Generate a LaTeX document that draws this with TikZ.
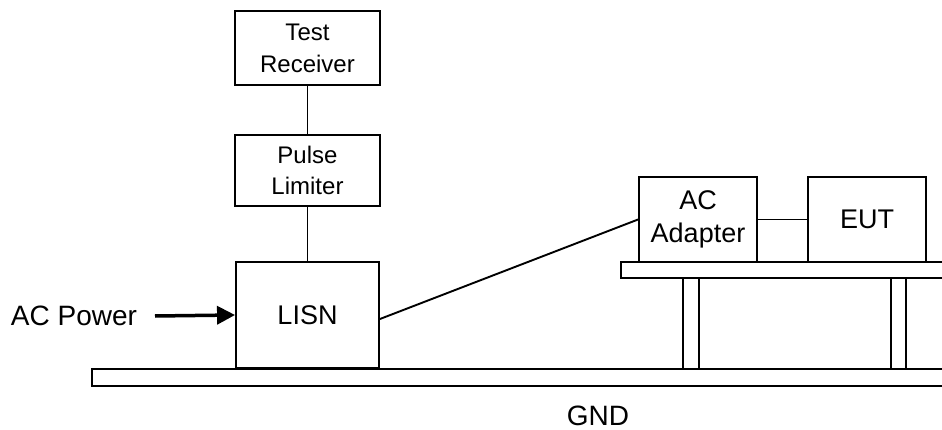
\documentclass[tikz,border=0pt]{standalone}
\usepackage{fontspec}
\setmainfont{Liberation Sans}
\usetikzlibrary{arrows.meta}
\begin{document}
\begin{tikzpicture}[x=1pt, y=-1pt, line width=1.9pt, line join=miter]
  \tikzstyle{box}=[draw, rectangle, inner sep=0pt, align=center]
  \tikzstyle{plate}=[draw]
  \useasboundingbox (0,0) rectangle (942,430);
  \clip (0,0) rectangle (942,430);
  % boxes
  \node[box, minimum width=145pt, minimum height=74pt, font=\fontsize{24}{32}\selectfont] (recv) at (307.5,48) {Test\\Receiver};
  \node[box, minimum width=145pt, minimum height=71pt, font=\fontsize{24}{31}\selectfont] (lim) at (307.5,170.5) {Pulse\\Limiter};
  \node[box, minimum width=143pt, minimum height=106pt, font=\fontsize{27}{33}\selectfont] (lisn) at (307.5,315) {LISN};
  \node[box, minimum width=118pt, minimum height=85pt, font=\fontsize{27}{33}\selectfont] (adapt) at (698,219.5) {\raisebox{-4pt}{AC}\\\raisebox{-4pt}{Adapter}};
  \node[box, minimum width=118pt, minimum height=85pt, font=\fontsize{27}{33}\selectfont] (eut) at (867,219.5) {\raisebox{-3pt}{EUT}};
  \node[font=\fontsize{28}{33}\selectfont] (power) at (74,316) {AC Power};
  \node[font=\fontsize{28}{30}\selectfont] (gnd) at (598,416) {GND};
  \coordinate (pin) at (155,316);
  % ground plane and table
  \draw[plate] (92,369) rectangle (950,386);
  \draw[plate] (621,262) rectangle (950,278);
  \draw[plate] (683,278) rectangle (699,369);
  \draw[plate] (891,278) rectangle (906,369);
  % connections
  \draw (recv) -- (lim);
  \draw (lim) -- (lisn);
  \draw ([yshift=-4pt]lisn.east) -- (adapt.west);
  \draw (adapt) -- (eut);
  \draw[line width=3.5pt, -{Triangle[length=18pt, width=18pt]}] (pin) -- (lisn.west);
\end{tikzpicture}
\end{document}
